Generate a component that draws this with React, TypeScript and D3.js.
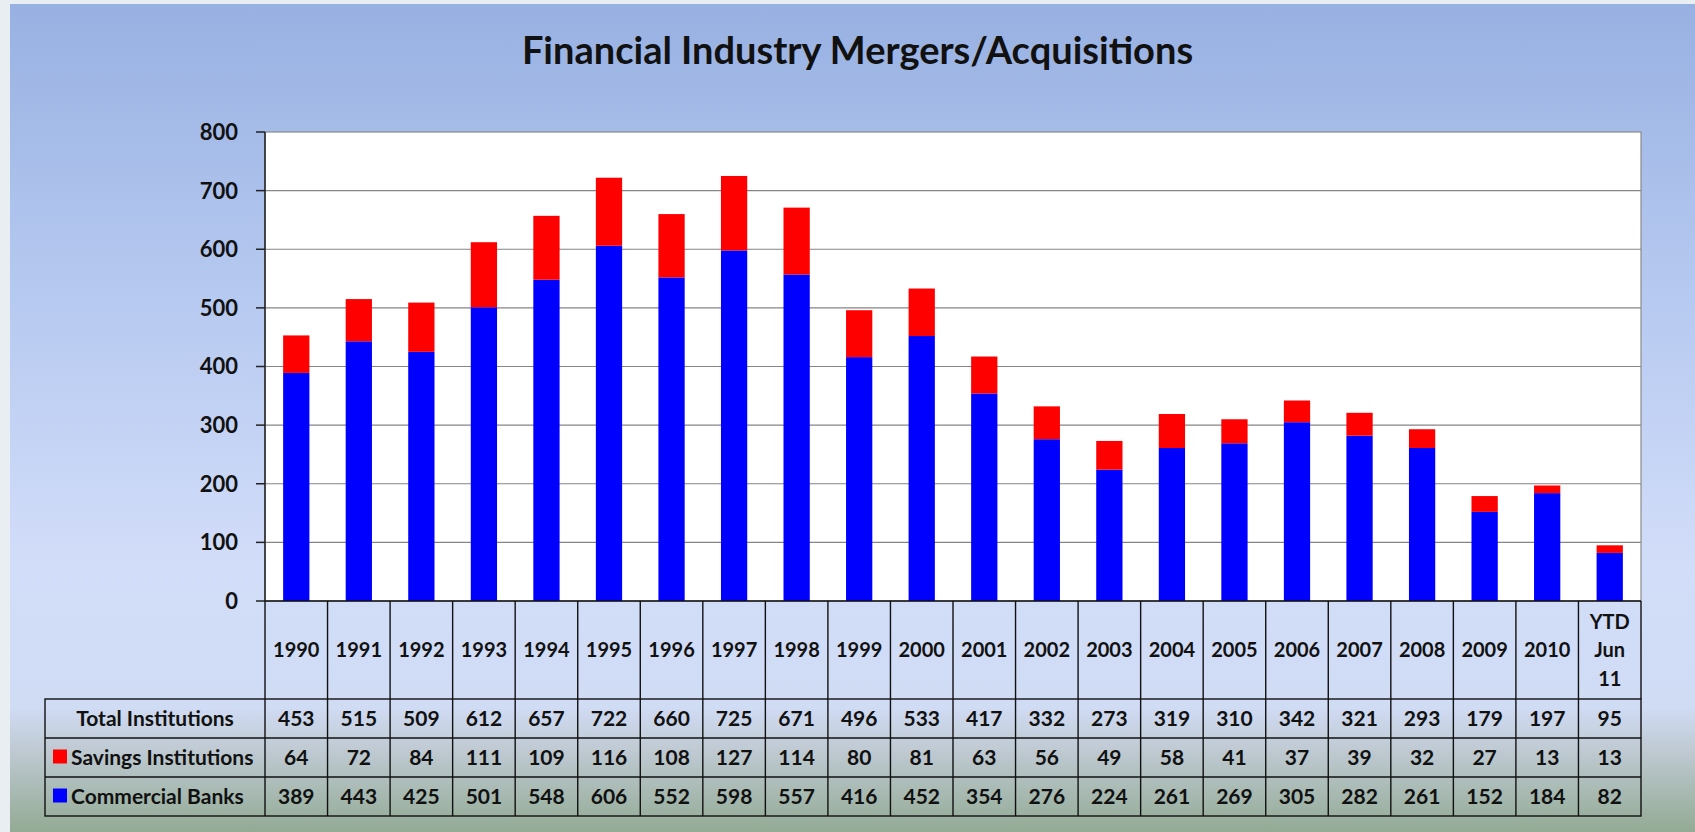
import React from "react";
import * as d3 from "d3";

const categories = ["1990","1991","1992","1993","1994","1995","1996","1997","1998","1999","2000","2001","2002","2003","2004","2005","2006","2007","2008","2009","2010","YTD Jun 11"];
const totalInstitutions = [453,515,509,612,657,722,660,725,671,496,533,417,332,273,319,310,342,321,293,179,197,95];
const savingsInstitutions = [64,72,84,111,109,116,108,127,114,80,81,63,56,49,58,41,37,39,32,27,13,13];
const commercialBanks = [389,443,425,501,548,606,552,598,557,416,452,354,276,224,261,269,305,282,261,152,184,82];
const yTicks = [0,100,200,300,400,500,600,700,800];
const title = "Financial Industry Mergers/Acquisitions";
const rowLabels = ["Total Institutions","Savings Institutions","Commercial Banks"];

const W = 1695, H = 832;
const plotL = 265, plotR = 1641, plotT = 132, plotB = 601;
const headerB = 699, rowH = 39;
const labelL = 45;
const FONT = "Lato, 'Open Sans', sans-serif";

export default function App() {
  const x = d3.scaleBand<string>().domain(categories).range([plotL, plotR]).paddingInner(0.58).paddingOuter(0.29);
  const y = d3.scaleLinear().domain([0, 800]).range([plotB, plotT]);
  const rows = categories.map((c, i) => ({ cat: c, commercial: commercialBanks[i], savings: savingsInstitutions[i] }));
  const stack = d3.stack<any>().keys(["commercial", "savings"])(rows);
  const colors: Record<string, string> = { commercial: "#0000ff", savings: "#ff0000" };
  const step = x.step();
  const colLeft = (i: number) => plotL + i * step;
  const tableRows = [totalInstitutions, savingsInstitutions, commercialBanks];
  const legendColors = [null, "#ff0000", "#0000ff"];

  return (
    <div>
      <style>{`body{margin:0;}`}</style>
      <svg width={W} height={H} style={{ display: "block" }}>
        <defs>
          <linearGradient id="bg" x1="0" y1="0" x2="0" y2="1">
            <stop offset="0" stopColor="#98b1e2" />
            <stop offset="0.35" stopColor="#b6c9f0" />
            <stop offset="0.68" stopColor="#d2ddf9" />
            <stop offset="0.85" stopColor="#d0dbf4" />
            <stop offset="0.9" stopColor="#bfcad3" />
            <stop offset="1" stopColor="#93aa94" />
          </linearGradient>
        </defs>
        <rect x={0} y={0} width={W} height={H} fill="#e9eef3" />
        <rect x={10} y={4} width={W - 10} height={H - 4} fill="url(#bg)" />
        <text x={W / 2 + 10} y={64} textAnchor="middle" fontFamily={FONT} fontWeight={700} fontSize={38} fill="#111">{title}</text>

        {/* plot area */}
        <rect x={plotL} y={plotT} width={plotR - plotL} height={plotB - plotT} fill="#ffffff" stroke="#8a8a8a" strokeWidth={1.2} />
        {yTicks.filter(t => t > 0 && t < 800).map(t => (
          <line key={t} x1={plotL} x2={plotR} y1={y(t)} y2={y(t)} stroke="#858585" strokeWidth={1.2} />
        ))}
        {stack.map(s => (
          <g key={s.key} fill={colors[s.key]}>
            {s.map((d, i) => (
              <rect key={i} x={x(categories[i])} width={x.bandwidth()} y={y(d[1])} height={y(d[0]) - y(d[1])} />
            ))}
          </g>
        ))}
        <line x1={plotL} x2={plotL} y1={plotT} y2={plotB} stroke="#222" strokeWidth={1.5} />
        {yTicks.map(t => (
          <g key={t}>
            <line x1={plotL - 9} x2={plotL} y1={y(t)} y2={y(t)} stroke="#222" strokeWidth={1.5} />
            <text x={238} y={y(t)} dy="0.36em" textAnchor="end" fontFamily={FONT} fontWeight={700} fontSize={22} fill="#111">{t}</text>
          </g>
        ))}

        {/* table */}
        <g stroke="#111" strokeWidth={1.4} fill="none">
          <rect x={labelL} y={headerB} width={plotR - labelL} height={rowH * 3} />
          <line x1={plotL} x2={plotR} y1={plotB} y2={plotB} />
          <line x1={plotR} x2={plotR} y1={plotB} y2={headerB} />
          {[1, 2].map(r => (
            <line key={r} x1={labelL} x2={plotR} y1={headerB + r * rowH} y2={headerB + r * rowH} />
          ))}
          {categories.map((c, i) => (
            <line key={c} x1={colLeft(i)} x2={colLeft(i)} y1={plotB} y2={headerB + rowH * 3} />
          ))}
        </g>
        {categories.map((c, i) => {
          const parts = c.split(" ");
          const cx = colLeft(i) + step / 2;
          const midY = (plotB + headerB) / 2;
          const lh = 28.5;
          return (
            <text key={c} textAnchor="middle" fontFamily={FONT} fontWeight={700} fontSize={20} fill="#111">
              {parts.map((p, k) => (
                <tspan key={k} x={cx} y={midY + (k - (parts.length - 1) / 2) * lh} dy="0.36em">{p}</tspan>
              ))}
            </text>
          );
        })}
        {tableRows.map((vals, r) => (
          <g key={r}>
            {vals.map((v, i) => (
              <text key={i} x={colLeft(i) + step / 2} y={headerB + r * rowH + rowH / 2} dy="0.36em" textAnchor="middle" fontFamily={FONT} fontWeight={700} fontSize={21} fill="#111">{v}</text>
            ))}
            {legendColors[r] ? (
              <g>
                <rect x={53} y={headerB + r * rowH + rowH / 2 - 8} width={14} height={14} fill={legendColors[r] as string} />
                <text x={71} y={headerB + r * rowH + rowH / 2} dy="0.36em" fontFamily={FONT} fontWeight={700} fontSize={21} fill="#111">{rowLabels[r]}</text>
              </g>
            ) : (
              <text x={(labelL + plotL) / 2} y={headerB + r * rowH + rowH / 2} dy="0.36em" textAnchor="middle" fontFamily={FONT} fontWeight={700} fontSize={21} fill="#111">{rowLabels[r]}</text>
            )}
          </g>
        ))}
      </svg>
    </div>
  );
}
